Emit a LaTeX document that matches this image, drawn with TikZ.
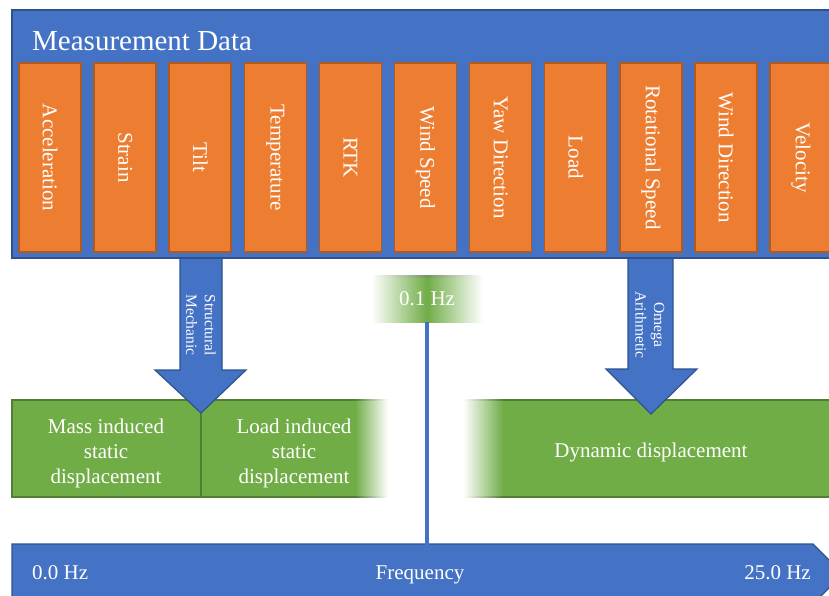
\documentclass[tikz,border=0pt]{standalone}
\usepackage{fontspec}
\setmainfont{Liberation Serif}
\usetikzlibrary{positioning}

\definecolor{boxblue}{HTML}{4472C4}
\definecolor{edgeblue}{HTML}{2F528F}
\definecolor{boxorange}{HTML}{ED7D31}
\definecolor{edgeorange}{HTML}{AE5A21}
\definecolor{boxgreen}{HTML}{70AD47}
\definecolor{edgegreen}{HTML}{507E32}

\tikzset{
  label/.style={text=white, inner sep=0pt, font=\fontsize{21}{25}\selectfont, align=center},
  arrowlabel/.style={text=white, inner sep=0pt, rotate=-90, font=\fontsize{15.5}{18.5}\selectfont, align=center},
  bigarrow/.style={fill=boxblue, draw=edgeblue, line width=1.2pt, line join=miter},
}

\begin{document}
\begin{tikzpicture}[x=1pt, y=-1pt]
  \useasboundingbox (0,0) rectangle (829,595);
  \clip (0,0) rectangle (829,595);

  % frequency axis at the bottom
  \fill[boxblue, draw=edgeblue, line width=1.2pt] (12,544) -- (813,544) -- (843,574) -- (813,604) -- (12,604) -- cycle;
  \coordinate (axistop) at (12,545);
  \node[label, anchor=base west] (fmin) at (32,579) {0.0 Hz};
  \node[label, anchor=base] (fname) at (420,579) {Frequency};
  \node[label, anchor=base east] (fmax) at (811,579) {25.0 Hz};

  % 0.1 Hz split marker
  \node[label, left color=white, right color=white, middle color=boxgreen,
        minimum width=111pt, minimum height=46pt] (lowcut) at (427,299) {0.1 Hz};
  \shade[left color=white, right color=white, middle color=edgegreen!80] (lowcut.north west) rectangle ++(111,1.2);
  \draw[boxblue, line width=3.5pt] (lowcut.south) -- (lowcut.south |- axistop);

  % static displacement boxes
  \fill[boxgreen] (12,400) rectangle (355,497);
  \shade[left color=boxgreen, right color=white] (355,400) rectangle (388,497);
  \draw[edgegreen, line width=1.5pt] (355,400) -- (12,400) -- (12,497) -- (355,497);
  \shade[left color=edgegreen, right color=white] (355,399.25) rectangle (388,400.75);
  \shade[left color=edgegreen, right color=white] (355,496.25) rectangle (388,497.75);
  \draw[edgegreen, line width=1.5pt] (201,400) -- (201,497);
  \node[label] (massstat) at (106,453) {Mass induced\\static\\displacement};
  \node[label] (loadstat) at (294,453) {Load induced\\static\\displacement};

  % dynamic displacement box
  \shade[left color=white, right color=boxgreen] (463,400) rectangle (503,497);
  \fill[boxgreen] (503,400) rectangle (840,497);
  \draw[edgegreen, line width=1.5pt] (503,400) -- (840,400) (503,497) -- (840,497);
  \shade[left color=white, right color=edgegreen] (463,399.25) rectangle (503,400.75);
  \shade[left color=white, right color=edgegreen] (463,496.25) rectangle (503,497.75);
  \node[label, anchor=base] (dynamic) at (651,457) {Dynamic displacement};

  % processing arrows
  \draw[bigarrow] (180,256) -- (222,256) -- (222,370) -- (246,370) -- (201,413) -- (155,370) -- (180,370) -- cycle;
  \node[arrowlabel] (structmech) at (201,325) {Structural\\Mechanic};
  \draw[bigarrow] (628,256) -- (673,256) -- (673,369) -- (697,369) -- (651,414) -- (606,369) -- (628,369) -- cycle;
  \node[arrowlabel] (omegaarith) at (650,325) {Omega\\Arithmetic};

  % measurement data with channels
  \draw[fill=boxblue, draw=edgeblue, line width=1.5pt] (12,10) rectangle (840,258);
  \node[label, font=\fontsize{29}{29}\selectfont, anchor=base west] (mdata) at (32,50) {Measurement Data};
  \foreach \lbl [count=\i from 0] in {Acceleration, Strain, Tilt, Temperature, RTK, Wind Speed,
      Yaw Direction, Load, Rotational Speed, Wind Direction, Velocity} {
    \draw[fill=boxorange, draw=edgeorange, line width=1.5pt] ({19+75.1*\i},63) rectangle ++(62,189);
    \node[label, rotate=-90] (ch\i) at ({50+75.1*\i},157.5) {\lbl};
  }
\end{tikzpicture}
\end{document}
